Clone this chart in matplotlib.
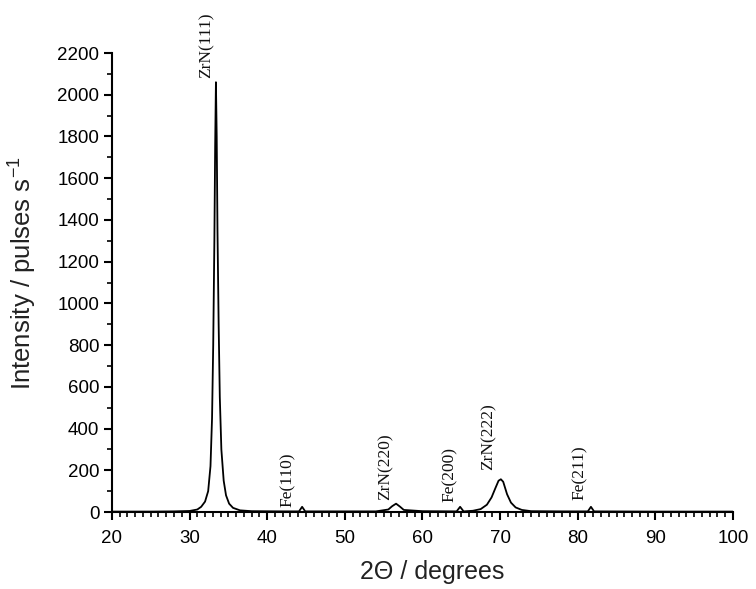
import matplotlib.pyplot as plt
from matplotlib.ticker import MultipleLocator

# diffractogram (2theta in degrees, intensity in pulses/s)
two_theta = [20, 25, 28, 30, 31, 31.5, 32, 32.4, 32.7, 32.9, 33.05, 33.2, 33.3, 33.4,
             33.5, 33.6, 33.75, 33.9, 34.1, 34.4, 34.7, 35.1, 35.6, 36.5, 38, 42,
             44.1, 44.5, 44.9, 48, 54, 55.6, 56.1, 56.6, 57.1, 57.6, 60, 64.4, 64.85, 65.3,
             66.5, 67.5, 68.3, 68.9, 69.4, 69.8, 70.1, 70.4, 70.9, 71.4, 72, 72.8, 74,
             78, 81.3, 81.7, 82.1, 90, 100]
intensity = [2, 2, 3, 5, 12, 25, 50, 100, 220, 450, 800, 1300, 1750, 2060,
             1800, 1350, 900, 550, 300, 150, 80, 40, 20, 8, 4, 3,
             3, 25, 3, 3, 3, 12, 28, 40, 26, 10, 4, 3, 25, 3,
             6, 14, 35, 70, 115, 150, 157, 145, 85, 45, 22, 10, 4,
             3, 3, 25, 3, 2, 2]

peak_labels = ["ZrN(111)", "Fe(110)", "ZrN(220)", "Fe(200)", "ZrN(222)", "Fe(211)"]
label_x = [32.2, 42.7, 55.2, 63.5, 68.5, 80.3]
label_y = [2080, 25, 57, 48, 200, 57]

plt.rcParams['font.family'] = ['Liberation Sans', 'DejaVu Sans']

fig = plt.figure(figsize=(7.56, 5.89), dpi=100)
ax = fig.add_axes([0.148, 0.1307, 0.8216, 0.7793])
ax.plot(two_theta, intensity, color="black", lw=1.3)

for lab, x, y in zip(peak_labels, label_x, label_y):
    ax.text(x, y, lab, rotation=90, ha="center", va="bottom",
            family="Liberation Serif", fontsize=12.5, color="#111111")

ax.set_xlim(20, 100)
ax.set_ylim(0, 2200)
ax.xaxis.set_major_locator(MultipleLocator(10))
ax.xaxis.set_minor_locator(MultipleLocator(1))
ax.yaxis.set_major_locator(MultipleLocator(200))
ax.yaxis.set_minor_locator(MultipleLocator(100))
ax.tick_params(which="major", direction="out", length=6, width=1.5, labelsize=13.5, pad=3)
ax.tick_params(axis="x", which="major", pad=7)
ax.tick_params(which="minor", direction="out", length=3.5, width=1.2)

for s in ["top", "right"]:
    ax.spines[s].set_visible(False)
for s in ["left", "bottom"]:
    ax.spines[s].set_linewidth(1.5)

ax.set_xlabel("2\u0398 / degrees", fontsize=18, color="#222222", labelpad=9)
ax.xaxis.label.set_x(0.515)
ax.set_ylabel("Intensity / pulses s$^{\\mathregular{-1}}$", fontsize=18.5, color="#222222")
ax.yaxis.set_label_coords(-0.119, 0.52)

plt.savefig("out.png", dpi=100)
